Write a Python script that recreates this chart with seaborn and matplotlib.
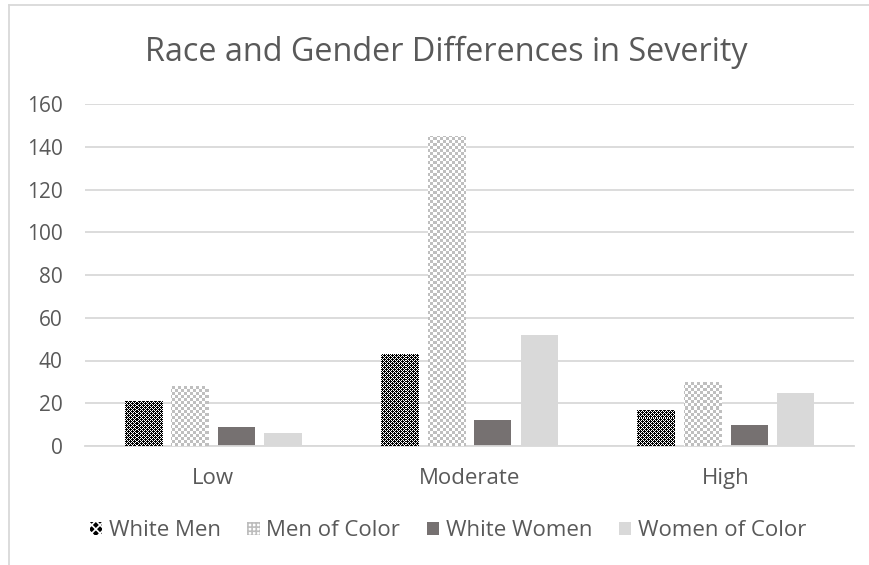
import matplotlib
matplotlib.use("Agg")
import matplotlib.pyplot as plt
from matplotlib.patches import Patch
from matplotlib.lines import Line2D
import seaborn as sns
import pandas as pd
import numpy as np

categories = ["Low", "Moderate", "High"]
groups = ["White Men", "Men of Color", "White Women", "Women of Color"]
white_men = [21, 43, 17]
men_of_color = [28, 145, 30]
white_women = [9, 12, 10]
women_of_color = [6, 52, 25]
yticks = [0, 20, 40, 60, 80, 100, 120, 140, 160]

series = [white_men, men_of_color, white_women, women_of_color]
rows = []
for g, vals in zip(groups, series):
    for c, v in zip(categories, vals):
        rows.append({"Severity": c, "Group": g, "Count": v})
df = pd.DataFrame(rows)

# style: (facecolor, hatch color, hatch) -- hatches used for legend keys
styles = {
    "White Men": ("#000000", "#ffffff", "xxxx"),
    "Men of Color": ("#ffffff", "#bdbdbd", "++++"),
    "White Women": ("#767171", "#767171", ""),
    "Women of Color": ("#d9d9d9", "#d9d9d9", ""),
}

plt.rcParams["hatch.linewidth"] = 1.2
plt.rcParams["font.family"] = ["Open Sans", "DejaVu Sans"]
text_color = "#595959"
grid_color = "#d9d9d9"

W, H = 870, 565
fig = plt.figure(figsize=(W / 100, H / 100), dpi=100)
ax = fig.add_axes([85 / W, 1 - 446 / H, (854 - 85) / W, (446 - 104) / H])

palette = {g: styles[g][0] for g in groups}
sns.barplot(data=df, x="Severity", y="Count", hue="Group", order=categories,
            hue_order=groups, palette=palette, saturation=1, width=0.7266,
            gap=0.204, legend=False, ax=ax, errorbar=None)

ax.set_ylim(0, 160)
ax.set_xlim(-0.5, 2.5)

# pixel textures (Excel pattern fills), clipped to the seaborn bars
aw, ah = 854 - 85, 446 - 104
yy, xx = np.mgrid[0:ah, 0:aw]
tile_wm = np.array([[0, 1, 0, 1],
                    [1, 1, 1, 0],
                    [0, 1, 0, 1],
                    [1, 0, 1, 1]])
wm_black = tile_wm[yy % 4, xx % 4].astype(bool)
tex_wm = np.where(wm_black[..., None], 0.0, 1.0) * np.ones(3)
moc_gray = ((yy // 3 + xx // 3) % 2).astype(bool)
tex_moc = np.where(moc_gray[..., None], 0.75, 1.0) * np.ones(3)
textures = {"White Men": tex_wm, "Men of Color": tex_moc}

for cont, g in zip(ax.containers, groups):
    fc, hc, h = styles[g]
    for p in cont:
        p.set_facecolor(fc)
        p.set_edgecolor(fc)
        p.set_linewidth(0)
        if g in textures:
            im = ax.imshow(textures[g], extent=(-0.5, 2.5, 0, 160), origin="upper",
                           aspect="auto", interpolation="nearest", zorder=3)
            im.set_clip_path(p)

ax.set_ylim(0, 160)
ax.set_xlim(-0.5, 2.5)
ax.set_aspect("auto")
ax.set_yticks(yticks)
ax.set_yticklabels([str(t) for t in yticks])
ax.set_xlabel("")
ax.set_ylabel("")
ax.grid(axis="y", color=grid_color, linewidth=1.3)
ax.set_axisbelow(True)
for s in ["left", "right", "top"]:
    ax.spines[s].set_visible(False)
ax.spines["bottom"].set_color(grid_color)
ax.spines["bottom"].set_linewidth(1.3)
ax.tick_params(axis="both", length=0, labelcolor=text_color)
ax.tick_params(axis="y", pad=16, labelsize=15)
ax.tick_params(axis="x", pad=16, labelsize=16)

fig.text(446.5 / W, 1 - 52 / H, "Race and Gender Differences in Severity",
         ha="center", va="center", fontsize=23.3, color=text_color)

handles = []
for g in groups:
    fc, hc, h = styles[g]
    handles.append(Patch(facecolor=fc, edgecolor=hc, hatch=h, linewidth=0, label=g))
leg = fig.legend(handles=handles, loc="center", bbox_to_anchor=(448 / W, 1 - 531 / H),
                 ncol=4, frameon=False, fontsize=16, handlelength=0.55,
                 handleheight=0.55, handletextpad=0.3, columnspacing=1.2)
for t in leg.get_texts():
    t.set_color(text_color)

# chart-area frame (top and left edges visible)
fig.add_artist(Line2D([9 / W, 1], [1 - 5 / H, 1 - 5 / H], color=grid_color,
                      linewidth=1.3, transform=fig.transFigure))
fig.add_artist(Line2D([9 / W, 9 / W], [0, 1 - 5 / H], color=grid_color,
                      linewidth=1.3, transform=fig.transFigure))

fig.savefig("out.png", dpi=100, facecolor="white")
